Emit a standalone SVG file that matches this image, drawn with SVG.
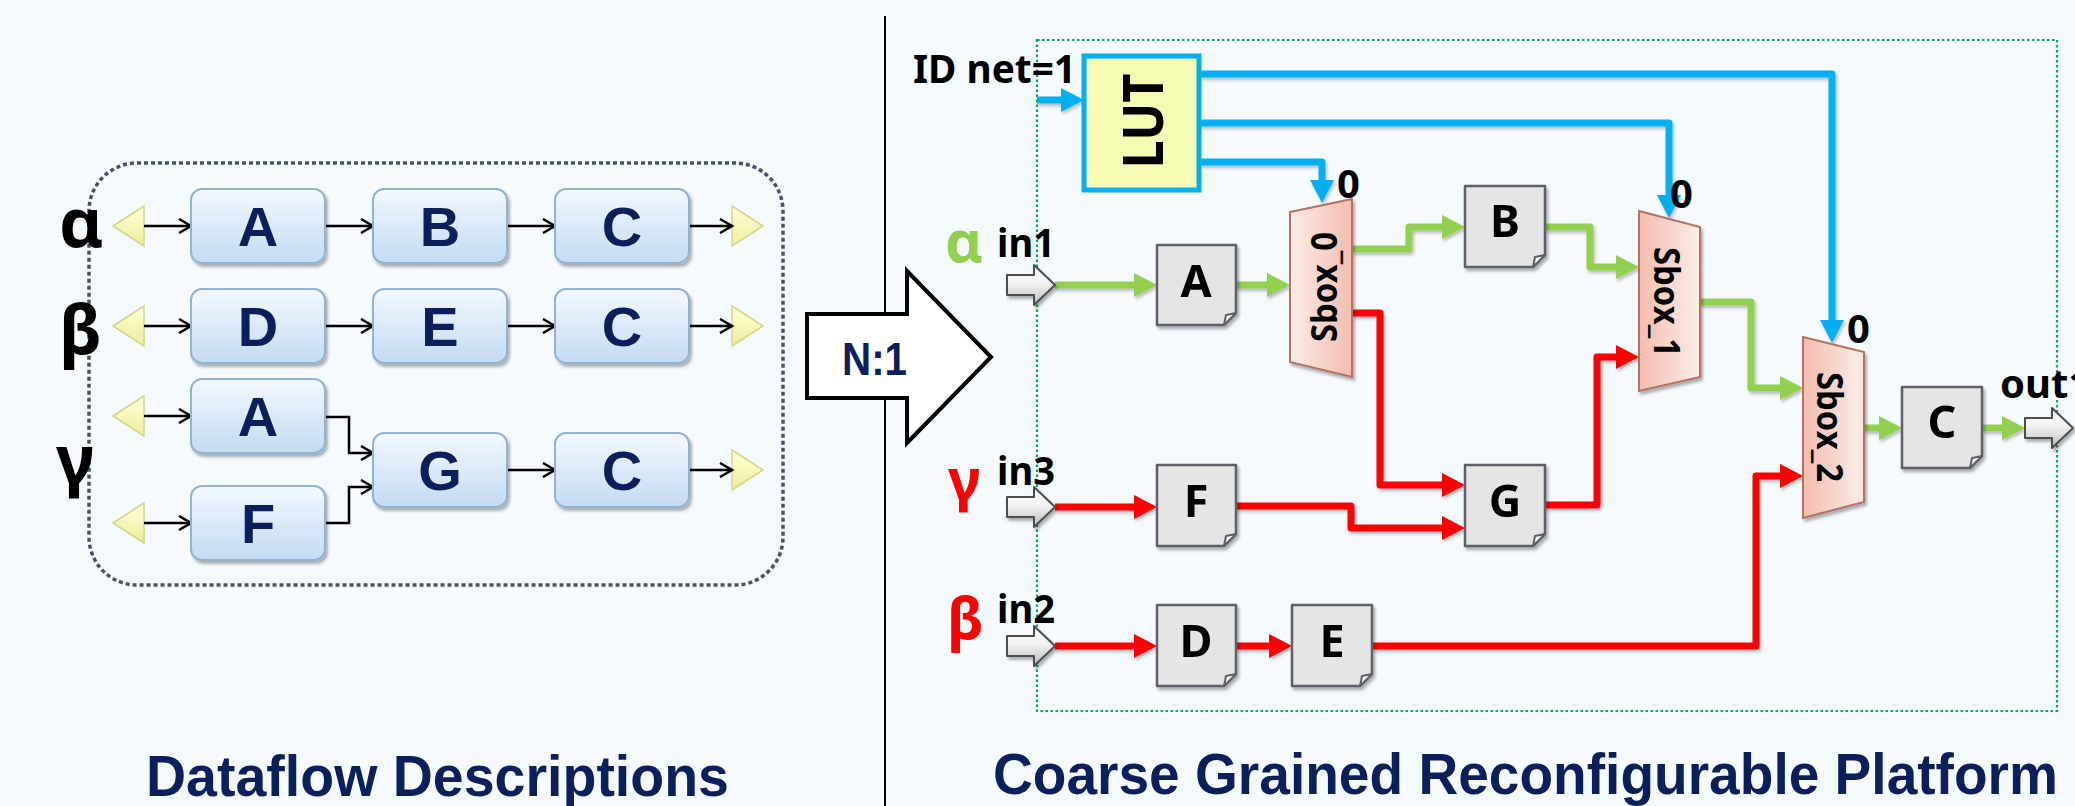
<svg xmlns="http://www.w3.org/2000/svg" width="2075" height="806" viewBox="0 0 2075 806">
  <defs>
    <linearGradient id="gBlue" x1="0" y1="0" x2="0" y2="1">
      <stop offset="0" stop-color="#F3F8FE"/>
      <stop offset="1" stop-color="#C3DBF3"/>
    </linearGradient>
    <linearGradient id="gTri" x1="0" y1="0" x2="0" y2="1">
      <stop offset="0" stop-color="#FFFFD8"/>
      <stop offset="1" stop-color="#EEEE9C"/>
    </linearGradient>
    <linearGradient id="gSboxLight" x1="0" y1="0" x2="1" y2="0">
      <stop offset="0" stop-color="#FDEDE8"/>
      <stop offset="1" stop-color="#F2BDAE"/>
    </linearGradient>
    <linearGradient id="gSboxDark" x1="0" y1="0" x2="1" y2="0">
      <stop offset="0" stop-color="#F2BDAE"/>
      <stop offset="1" stop-color="#FDEDE8"/>
    </linearGradient>
    <linearGradient id="gPort" x1="0" y1="0" x2="0" y2="1">
      <stop offset="0" stop-color="#FFFFFF"/>
      <stop offset="0.45" stop-color="#F2F2F2"/>
      <stop offset="1" stop-color="#BDBDBD"/>
    </linearGradient>
    <filter id="shadow" x="-20%" y="-20%" width="140%" height="140%">
      <feDropShadow dx="2" dy="3" stdDeviation="1.8" flood-color="#000" flood-opacity="0.3"/>
    </filter>
    <filter id="wireShadow" x="-5%" y="-5%" width="110%" height="110%">
      <feDropShadow dx="1.5" dy="2.5" stdDeviation="1.5" flood-color="#000" flood-opacity="0.25"/>
    </filter>
    <marker id="chev" markerUnits="userSpaceOnUse" viewBox="0 0 16 16" markerWidth="16" markerHeight="16" refX="13" refY="8" orient="auto">
      <path d="M1,1 L13,8 L1,15" fill="none" stroke="#000" stroke-width="2.5"/>
    </marker>
    <marker id="mG" markerUnits="userSpaceOnUse" viewBox="0 0 24 24" markerWidth="24" markerHeight="24" refX="1" refY="12" orient="auto">
      <path d="M0,0 L23,12 L0,24 Z" fill="#92D050"/>
    </marker>
    <marker id="mR" markerUnits="userSpaceOnUse" viewBox="0 0 24 24" markerWidth="24" markerHeight="24" refX="1" refY="12" orient="auto">
      <path d="M0,0 L23,12 L0,24 Z" fill="#FF0000"/>
    </marker>
    <marker id="mB" markerUnits="userSpaceOnUse" viewBox="0 0 24 24" markerWidth="24" markerHeight="24" refX="1" refY="12" orient="auto">
      <path d="M0,0 L23,12 L0,24 Z" fill="#00B0F0"/>
    </marker>
  </defs>
  <style>
    .lbox { fill: url(#gBlue); stroke: #93B2D3; stroke-width: 2; filter: url(#shadow); }
    .ltxt { font-family: 'Liberation Sans', Arial, sans-serif; font-weight: 700; font-size: 56px; fill: #0B1F5C; text-anchor: middle; }
    .tri { fill: url(#gTri); stroke: #D6D68A; stroke-width: 1.5; }
    .flow { fill: none; stroke: #000; stroke-width: 2.5; marker-end: url(#chev); }
    .greek { font-family: 'Noto Sans', 'Open Sans', sans-serif; font-weight: 700; font-size: 68px; fill: #000; }
    .proc { fill: #E5E5E5; stroke: #5E5E68; stroke-width: 2.5; stroke-linejoin: round; }
    .fold { fill: #F8F8F8; stroke: #5E5E68; stroke-width: 2; stroke-linejoin: round; }
    .ptxt { font-family: 'Noto Sans', 'Open Sans', sans-serif; font-weight: 700; font-size: 45px; fill: #000; text-anchor: middle; }
    .sbox { stroke: #B4735F; stroke-width: 2; filter: url(#shadow); }
    .stxt { font-family: 'Noto Sans', 'Open Sans', sans-serif; font-weight: 700; font-size: 35px; fill: #000; text-anchor: middle; }
    .w { fill: none; stroke-width: 7; stroke-linejoin: round; }
    .g { stroke: #92D050; marker-end: url(#mG); }
    .r { stroke: #FF0000; marker-end: url(#mR); }
    .b { stroke: #00B0F0; marker-end: url(#mB); }
    .port { fill: url(#gPort); stroke: #4D4D4D; stroke-width: 2; stroke-linejoin: round; filter: url(#shadow); }
    .lbl { font-family: 'Noto Sans', 'Open Sans', sans-serif; font-weight: 700; font-size: 40px; fill: #000; }
    .title { font-family: 'Liberation Sans Narrow', 'Liberation Sans', Arial, sans-serif; font-weight: 700; font-size: 57px; fill: #0B1F5C; }
  </style>

  <!-- background -->
  <rect x="0" y="0" width="2075" height="806" fill="#F5FAFE"/>

  <!-- divider between the two halves -->
  <line x1="885" y1="16" x2="885" y2="806" stroke="#000" stroke-width="2"/>

  <!-- ===== Left: dataflow descriptions ===== -->
  <g id="dataflow-frame">
    <rect x="89" y="163" width="694" height="422" rx="48" ry="48" fill="none" stroke="#4A5070" stroke-width="3.5" stroke-dasharray="4 3"/>
  </g>

  <g id="greek-left">
    <text class="greek" x="59" y="247">α</text>
    <text class="greek" x="59" y="354">β</text>
    <text class="greek" x="56" y="484">γ</text>
  </g>

  <g id="io-triangles">
    <path class="tri" d="M113,226 L144,206 L144,246 Z"/>
    <path class="tri" d="M113,326 L144,306 L144,346 Z"/>
    <path class="tri" d="M113,416 L144,396 L144,436 Z"/>
    <path class="tri" d="M113,523 L144,503 L144,543 Z"/>
    <path class="tri" d="M763,226 L732,206 L732,246 Z"/>
    <path class="tri" d="M763,326 L732,306 L732,346 Z"/>
    <path class="tri" d="M763,470 L732,450 L732,490 Z"/>
  </g>

  <g id="dataflow-edges">
    <path class="flow" d="M144,226 H191"/>
    <path class="flow" d="M325,226 H373"/>
    <path class="flow" d="M507,226 H555"/>
    <path class="flow" d="M689,226 H732"/>
    <path class="flow" d="M144,326 H191"/>
    <path class="flow" d="M325,326 H373"/>
    <path class="flow" d="M507,326 H555"/>
    <path class="flow" d="M689,326 H732"/>
    <path class="flow" d="M144,416 H191"/>
    <path class="flow" d="M144,523 H191"/>
    <path class="flow" d="M325,417 H349 V453 H373"/>
    <path class="flow" d="M325,523 H349 V487 H373"/>
    <path class="flow" d="M507,470 H555"/>
    <path class="flow" d="M689,470 H732"/>
  </g>

  <g id="alpha-A"><rect class="lbox" x="191" y="189" width="134" height="74" rx="11"/><text class="ltxt" x="258" y="246">A</text></g>
  <g id="alpha-B"><rect class="lbox" x="373" y="189" width="134" height="74" rx="11"/><text class="ltxt" x="440" y="246">B</text></g>
  <g id="alpha-C"><rect class="lbox" x="555" y="189" width="134" height="74" rx="11"/><text class="ltxt" x="622" y="246">C</text></g>
  <g id="beta-D"><rect class="lbox" x="191" y="289" width="134" height="74" rx="11"/><text class="ltxt" x="258" y="346">D</text></g>
  <g id="beta-E"><rect class="lbox" x="373" y="289" width="134" height="74" rx="11"/><text class="ltxt" x="440" y="346">E</text></g>
  <g id="beta-C"><rect class="lbox" x="555" y="289" width="134" height="74" rx="11"/><text class="ltxt" x="622" y="346">C</text></g>
  <g id="gamma-A"><rect class="lbox" x="191" y="379" width="134" height="74" rx="11"/><text class="ltxt" x="258" y="436">A</text></g>
  <g id="gamma-F"><rect class="lbox" x="191" y="486" width="134" height="74" rx="11"/><text class="ltxt" x="258" y="543">F</text></g>
  <g id="gamma-G"><rect class="lbox" x="373" y="433" width="134" height="74" rx="11"/><text class="ltxt" x="440" y="490">G</text></g>
  <g id="gamma-C"><rect class="lbox" x="555" y="433" width="134" height="74" rx="11"/><text class="ltxt" x="622" y="490">C</text></g>

  <text class="title" x="146" y="796" textLength="583" lengthAdjust="spacingAndGlyphs">Dataflow Descriptions</text>

  <!-- ===== N:1 mapping arrow ===== -->
  <g id="mapping-arrow">
    <path d="M807,314 H907 V271 L991,357 L907,443 V398 H807 Z" fill="#FFFFFF" stroke="#000" stroke-width="4"/>
    <text x="842" y="375" textLength="65" lengthAdjust="spacingAndGlyphs" style="font-family:'Liberation Sans',Arial,sans-serif;font-weight:700;font-size:47px;fill:#0B1F5C">N:1</text>
  </g>

  <!-- ===== Right: coarse grained reconfigurable platform ===== -->
  <g id="platform-frame">
    <rect x="1037" y="40" width="1020" height="671" fill="none" stroke="#00B050" stroke-width="2.2" stroke-dasharray="2.5 2.5"/>
  </g>

  <g id="connectors" filter="url(#wireShadow)">
    <!-- configuration lines from the LUT -->
    <path class="w b" d="M1037,100 H1062"/>
    <path class="w b" d="M1199,74 H1832 V321"/>
    <path class="w b" d="M1199,123 H1669 V196"/>
    <path class="w b" d="M1199,162 H1322 V181"/>
    <!-- alpha net -->
    <path class="w g" d="M1055,285 H1135"/>
    <path class="w g" d="M1236,285 H1268"/>
    <path class="w g" d="M1352,249 H1409 V227 H1443"/>
    <path class="w g" d="M1545,227 H1590 V267 H1617"/>
    <path class="w g" d="M1700,302 H1751 V388 H1781"/>
    <path class="w g" d="M1864,428 H1880"/>
    <path class="w g" d="M1982,428 H2003"/>
    <!-- gamma and beta nets -->
    <path class="w r" d="M1055,507 H1135"/>
    <path class="w r" d="M1236,506 H1351 V528 H1443"/>
    <path class="w r" d="M1352,313 H1380 V485 H1443"/>
    <path class="w r" d="M1545,505 H1597 V357 H1617"/>
    <path class="w r" d="M1055,646 H1135"/>
    <path class="w r" d="M1236,646 H1270"/>
    <path class="w r" d="M1372,646 H1756 V476 H1781"/>
  </g>

  <g id="lut">
    <rect x="1084" y="56" width="115" height="134" fill="#F5FAB4" stroke="#00B0F0" stroke-width="5"/>
    <text transform="translate(1163,121) rotate(-90)" x="0" y="0" text-anchor="middle" textLength="95" lengthAdjust="spacingAndGlyphs" style="font-family:'Noto Sans','Open Sans',sans-serif;font-weight:700;font-size:56px;fill:#000">LUT</text>
  </g>
  <text class="lbl" x="913" y="83" textLength="163" lengthAdjust="spacingAndGlyphs">ID net=1</text>

  <g id="sbox0">
    <path class="sbox" d="M1290,212 L1352,199 L1352,377 L1290,362 Z" fill="url(#gSboxLight)"/>
    <text class="stxt" transform="translate(1337,287) rotate(-90)" textLength="110" lengthAdjust="spacingAndGlyphs">Sbox_0</text>
    <text class="lbl" x="1337" y="198">0</text>
  </g>
  <g id="sbox1">
    <path class="sbox" d="M1639,211 L1700,227 L1700,377 L1639,391 Z" fill="url(#gSboxDark)"/>
    <text class="stxt" transform="translate(1654,302) rotate(90)" textLength="110" lengthAdjust="spacingAndGlyphs">Sbox_1</text>
    <text class="lbl" x="1670" y="208">0</text>
  </g>
  <g id="sbox2">
    <path class="sbox" d="M1803,337 L1864,352 L1864,502 L1803,518 Z" fill="url(#gSboxDark)"/>
    <text class="stxt" transform="translate(1817,427) rotate(90)" textLength="110" lengthAdjust="spacingAndGlyphs">Sbox_2</text>
    <text class="lbl" x="1847" y="343">0</text>
  </g>

  <g id="pe-A" filter="url(#shadow)">
    <path class="proc" d="M1157,245 H1236 V313 L1224,325 H1157 Z"/>
    <path class="fold" d="M1236,313 L1224,325 L1226,315 Z"/>
    <text class="ptxt" x="1196" y="297">A</text>
  </g>
  <g id="pe-B" filter="url(#shadow)">
    <path class="proc" d="M1465,186 H1545 V255 L1533,267 H1465 Z"/>
    <path class="fold" d="M1545,255 L1533,267 L1535,257 Z"/>
    <text class="ptxt" x="1505" y="237">B</text>
  </g>
  <g id="pe-F" filter="url(#shadow)">
    <path class="proc" d="M1157,465 H1236 V534 L1224,546 H1157 Z"/>
    <path class="fold" d="M1236,534 L1224,546 L1226,536 Z"/>
    <text class="ptxt" x="1196" y="517">F</text>
  </g>
  <g id="pe-G" filter="url(#shadow)">
    <path class="proc" d="M1465,465 H1545 V534 L1533,546 H1465 Z"/>
    <path class="fold" d="M1545,534 L1533,546 L1535,536 Z"/>
    <text class="ptxt" x="1505" y="517">G</text>
  </g>
  <g id="pe-D" filter="url(#shadow)">
    <path class="proc" d="M1157,605 H1236 V674 L1224,686 H1157 Z"/>
    <path class="fold" d="M1236,674 L1224,686 L1226,676 Z"/>
    <text class="ptxt" x="1196" y="657">D</text>
  </g>
  <g id="pe-E" filter="url(#shadow)">
    <path class="proc" d="M1292,605 H1372 V674 L1360,686 H1292 Z"/>
    <path class="fold" d="M1372,674 L1360,686 L1362,676 Z"/>
    <text class="ptxt" x="1332" y="657">E</text>
  </g>
  <g id="pe-C" filter="url(#shadow)">
    <path class="proc" d="M1902,387 H1982 V456 L1970,468 H1902 Z"/>
    <path class="fold" d="M1982,456 L1970,468 L1972,458 Z"/>
    <text class="ptxt" x="1942" y="438">C</text>
  </g>

  <g id="port-in1">
    <path class="port" d="M1007,275 H1034 V265 L1055,285 L1034,305 V295 H1007 Z"/>
    <text class="lbl" x="997" y="257" textLength="58" lengthAdjust="spacingAndGlyphs">in1</text>
    <text class="greek" x="945" y="262" style="font-size:58px;fill:#92D050">α</text>
  </g>
  <g id="port-in3">
    <path class="port" d="M1007,497 H1034 V487 L1055,507 L1034,527 V517 H1007 Z"/>
    <text class="lbl" x="997" y="485" textLength="58" lengthAdjust="spacingAndGlyphs">in3</text>
    <text class="greek" x="948" y="500" style="font-size:58px;fill:#FF0000">γ</text>
  </g>
  <g id="port-in2">
    <path class="port" d="M1007,636 H1034 V626 L1055,646 L1034,666 V656 H1007 Z"/>
    <text class="lbl" x="997" y="623" textLength="58" lengthAdjust="spacingAndGlyphs">in2</text>
    <text class="greek" x="947" y="639" style="font-size:58px;fill:#FF0000">β</text>
  </g>
  <g id="port-out1">
    <path class="port" d="M2025,418 H2052 V408 L2073,428 L2052,448 V438 H2025 Z"/>
    <text class="lbl" x="2000" y="398">out1</text>
  </g>

  <text class="title" x="993" y="794" textLength="1065" lengthAdjust="spacingAndGlyphs">Coarse Grained Reconfigurable Platform</text>
</svg>
